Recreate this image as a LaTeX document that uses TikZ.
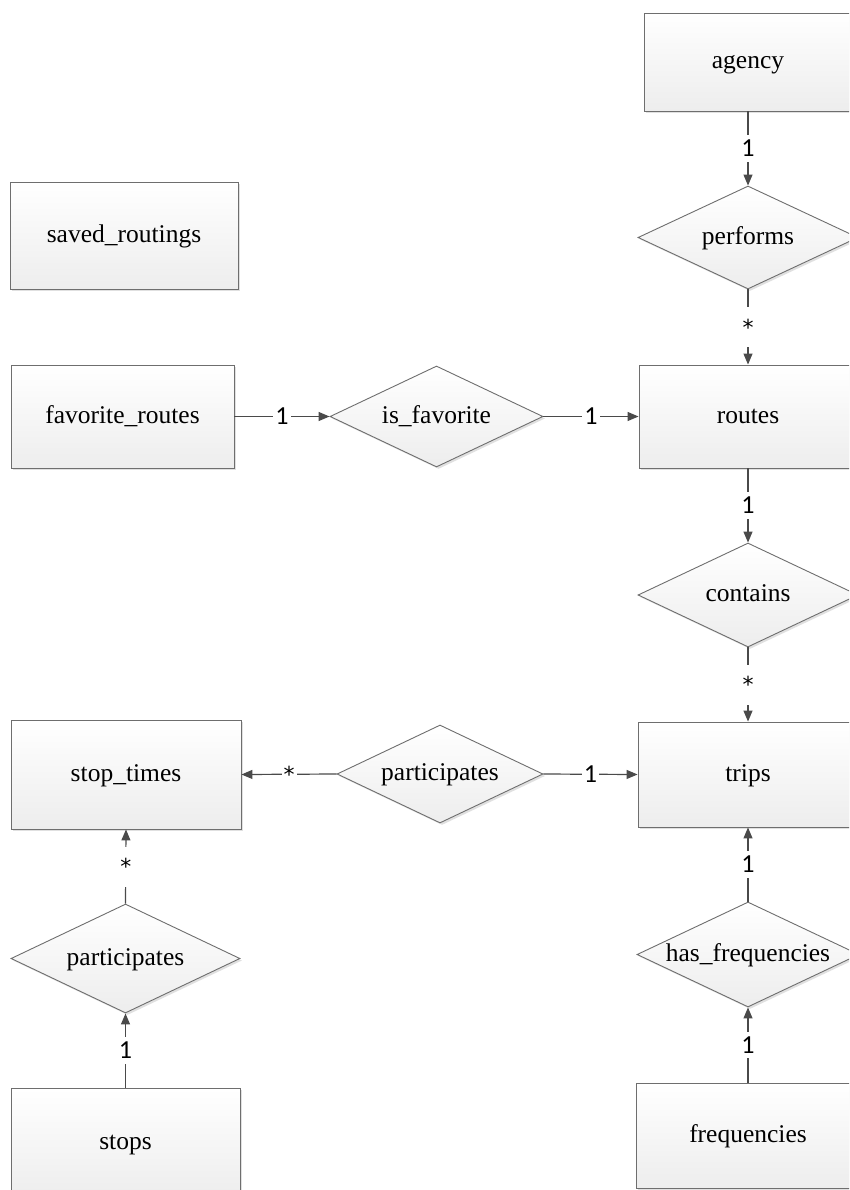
\documentclass[tikz,border=0pt]{standalone}
\usepackage{fontspec}
\setmainfont{Liberation Serif}
\newfontfamily\lblfont{Carlito}
\newfontfamily\starfont{DejaVu Sans}
\usetikzlibrary{shapes.geometric,arrows.meta,shadows}

\definecolor{edgegray}{HTML}{6E6E6E}
\definecolor{linegray}{HTML}{4A4A4A}
\definecolor{fillbottom}{HTML}{EDEDED}

\tikzset{
  shaded/.style={draw=edgegray, line width=0.9pt, top color=white, bottom color=fillbottom,
    drop shadow={shadow xshift=2pt, shadow yshift=-2pt, fill=black!30, opacity=0.4},
    font=\fontsize{25.5}{28}\selectfont, inner sep=0pt,
    text height=20pt, text depth=6.2pt},
  entity/.style={shaded, rectangle},
  relation/.style={shaded, diamond, aspect=1},
  link/.style={draw=linegray, line width=1.2pt, -{Triangle[length=11pt,width=9pt]}, color=linegray},
  card/.style={fill=white, text=black, font=\lblfont\fontsize{26}{28}\selectfont,
    inner xsep=2pt, inner ysep=5pt},
  many/.style={fill=white, text=black, font=\starfont\fontsize{22}{24}\selectfont,
    inner xsep=2pt, inner ysep=0pt, minimum height=40pt}
}

\newcommand{\rel}[1]{\makebox[0pt]{#1}}

\begin{document}
\begin{tikzpicture}[x=1pt,y=-1pt]
  \clip (0,0) rectangle (849,1190);
  \fill[white] (0,0) rectangle (849,1190);

  % entities
  \node[entity, minimum width=208pt, minimum height=98pt]  (agency)    at (748,62)      {agency};
  \node[entity, minimum width=228pt, minimum height=107pt] (saved)     at (124,235.5)   {saved\_routings};
  \node[entity, minimum width=223pt, minimum height=103pt] (fav)       at (122.5,416.5) {favorite\_routes};
  \node[entity, minimum width=218pt, minimum height=103pt] (routes)    at (748,416.5)   {routes};
  \node[entity, minimum width=220pt, minimum height=105pt] (trips)     at (748,774.5)   {trips};
  \node[entity, minimum width=230pt, minimum height=109pt] (stoptimes) at (126,774.5)   {stop\_times};
  \node[entity, minimum width=229pt, minimum height=110pt] (stops)     at (125.5,1143)  {stops};
  \node[entity, minimum width=224pt, minimum height=105pt] (freq)      at (748,1135.5)  {frequencies};

  % relationships
  \node[relation, minimum width=220pt, minimum height=103pt] (performs) at (748,237.5)   {\rel{performs}};
  \node[relation, minimum width=213pt, minimum height=101pt] (isfav)    at (436.5,416.5) {\rel{is\_favorite}};
  \node[relation, minimum width=220pt, minimum height=104pt] (contains) at (748,595)     {\rel{contains}};
  \node[relation, minimum width=206pt, minimum height=98pt]  (part1)    at (440,774)     {\rel{participates}};
  \node[relation, minimum width=229pt, minimum height=109pt] (part2)    at (125.5,958.5) {\rel{participates}};
  \node[relation, minimum width=222pt, minimum height=105pt] (hasfreq)  at (748,954.5)   {\rel{has\_frequencies}};

  % connectors with cardinalities
  \draw[link] (agency.south)  -- node[card] {1} (performs.north);
  \draw[link] (performs.south) -- node[many] {*} (routes.north);
  \draw[link] (fav.east)      -- node[card] {1} (isfav.west);
  \draw[link] (isfav.east)    -- node[card] {1} (routes.west);
  \draw[link] (routes.south)  -- node[card] {1} (contains.north);
  \draw[link] (contains.south) -- node[many] {*} (trips.north);
  \draw[link] (part1.west)    -- node[many, minimum height=0pt, inner ysep=3pt] {*} (stoptimes.east);
  \draw[link] (part1.east)    -- node[card] {1} (trips.west);
  \draw[link] (part2.north)   -- node[many] {*} (stoptimes.south);
  \draw[link] (stops.north)   -- node[card] {1} (part2.south);
  \draw[link] (hasfreq.north) -- node[card] {1} (trips.south);
  \draw[link] (freq.north)    -- node[card] {1} (hasfreq.south);
\end{tikzpicture}
\end{document}
